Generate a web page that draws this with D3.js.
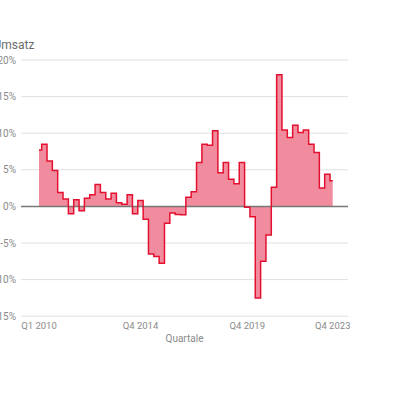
<!DOCTYPE html>
<html>
<head>
<meta charset="utf-8">
<script src="https://cdn.jsdelivr.net/npm/d3@7"></script>
<style>
  html, body { margin: 0; padding: 0; background: #fff; }
  svg { display: block; font-family: Roboto, sans-serif; }
</style>
</head>
<body>
<div id="chart"></div>
<script>
// Umsatz change vs. previous year, per quarter (%)
const years = d3.range(2010, 2024);
const quarters = years.flatMap(y => [1, 2, 3, 4].map(q => `Q${q} ${y}`));
const umsatz = [
  7.7, 8.5, 6.2, 4.9, 1.9, 1.0, -1.0, 0.9, -0.6, 1.1, 1.6, 3.0,
  1.9, 1.0, 1.8, 0.5, 0.3, 1.6, -1.0, 0.8, -1.75, -6.5, -6.85, -7.75,
  -2.3, -0.9, -1.1, -1.15, 1.25, 2.0, 6.0, 8.5, 8.35, 10.35, 4.6, 6.0,
  3.7, 3.1, 6.0, -0.1, -1.4, -12.5, -7.5, -3.9, 2.6, 18.0, 10.45, 9.4,
  11.1, 10.1, 10.45, 8.5, 7.35, 2.5, 4.4, 3.5
];
const yTicks = [20, 15, 10, 5, 0, -5, -10, -15];
const xTickLabels = ['Q1 2010', 'Q4 2014', 'Q4 2019', 'Q4 2023'];

const width = 400, height = 395;
const gridLeft = 21, gridRight = 348;

const svg = d3.select('#chart').append('svg')
  .attr('width', width)
  .attr('height', height);

const x = d3.scalePoint()
  .domain(quarters)
  .range([39, 332.7]);

const y = d3.scaleLinear()
  .domain([-15, 20])
  .range([316.2, 60]);

// grid
svg.append('g')
  .selectAll('line')
  .data(yTicks.filter(d => d !== 0))
  .enter().append('line')
  .attr('x1', gridLeft).attr('x2', gridRight)
  .attr('y1', d => y(d)).attr('y2', d => y(d))
  .attr('stroke', '#e0e0e0')
  .attr('stroke-width', 1);

// y labels
svg.append('g')
  .selectAll('text')
  .data(yTicks)
  .enter().append('text')
  .attr('x', 16)
  .attr('y', d => y(d))
  .attr('dy', '0.35em')
  .attr('text-anchor', 'end')
  .attr('font-size', 10)
  .attr('fill', '#8a8a8a')
  .text(d => `${d}%`);

// x labels
svg.append('g')
  .selectAll('text')
  .data(xTickLabels)
  .enter().append('text')
  .attr('x', d => x(d))
  .attr('y', 326)
  .attr('dy', '0.35em')
  .attr('text-anchor', 'middle')
  .attr('font-size', 9.5)
  .attr('fill', '#8a8a8a')
  .text(d => d);

svg.append('text')
  .attr('x', (gridLeft + gridRight) / 2)
  .attr('y', 338)
  .attr('dy', '0.35em')
  .attr('text-anchor', 'middle')
  .attr('font-size', 10)
  .attr('fill', '#8a8a8a')
  .text('Quartale');

svg.append('text')
  .attr('x', -6.5)
  .attr('y', 45)
  .attr('dy', '0.35em')
  .attr('font-size', 12)
  .attr('fill', '#6b6b6b')
  .text('Umsatz');

const data = quarters.map((q, i) => ({ q, v: umsatz[i] }));

const area = d3.area()
  .curve(d3.curveStep)
  .x(d => x(d.q))
  .y0(y(0))
  .y1(d => y(d.v));

const line = d3.line()
  .curve(d3.curveStep)
  .x(d => x(d.q))
  .y(d => y(d.v));

svg.append('path')
  .datum(data)
  .attr('d', area)
  .attr('fill', '#f0869a')
  .attr('fill-opacity', 0.95);

// zero line
svg.append('line')
  .attr('x1', gridLeft).attr('x2', gridRight)
  .attr('y1', y(0)).attr('y2', y(0))
  .attr('stroke', '#777')
  .attr('stroke-width', 1.5);

svg.append('path')
  .datum(data)
  .attr('d', line)
  .attr('fill', 'none')
  .attr('stroke', '#e3112f')
  .attr('stroke-width', 1.5);
</script>
</body>
</html>
